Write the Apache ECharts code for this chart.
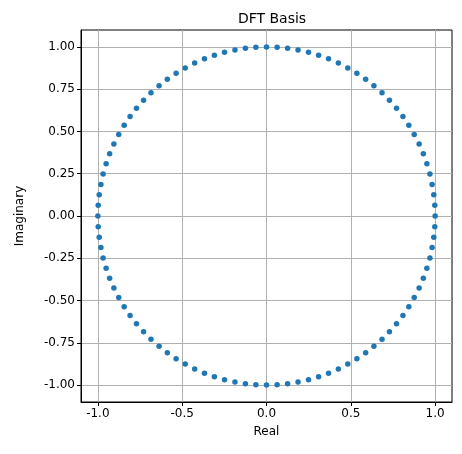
<!DOCTYPE html>
<html><head><meta charset="utf-8">
<script src="https://cdn.jsdelivr.net/npm/echarts@6/dist/echarts.min.js"></script>
<style>html,body{margin:0;padding:0;background:#fff}#c{width:462px;height:454px}</style>
</head><body><div id="c"></div>
<script>
const realVals = [1,.998,.992,.982,.969,.951,.930,.905,.876,.844,.809,.771,.729,.685,.637,.588,.536,.482,.426,.368,.309,.249,.187,.125,.063,0,
-.063,-.125,-.187,-.249,-.309,-.368,-.426,-.482,-.536,-.588,-.637,-.685,-.729,-.771,-.809,-.844,-.876,-.905,-.930,-.951,-.969,-.982,-.992,-.998,-1,
-.998,-.992,-.982,-.969,-.951,-.930,-.905,-.876,-.844,-.809,-.771,-.729,-.685,-.637,-.588,-.536,-.482,-.426,-.368,-.309,-.249,-.187,-.125,-.063,0,
.063,.125,.187,.249,.309,.368,.426,.482,.536,.588,.637,.685,.729,.771,.809,.844,.876,.905,.930,.951,.969,.982,.992,.998];
const imagVals = [0,.063,.125,.187,.249,.309,.368,.426,.482,.536,.588,.637,.685,.729,.771,.809,.844,.876,.905,.930,.951,.969,.982,.992,.998,1,
.998,.992,.982,.969,.951,.930,.905,.876,.844,.809,.771,.729,.685,.637,.588,.536,.482,.426,.368,.309,.249,.187,.125,.063,0,
-.063,-.125,-.187,-.249,-.309,-.368,-.426,-.482,-.536,-.588,-.637,-.685,-.729,-.771,-.809,-.844,-.876,-.905,-.930,-.951,-.969,-.982,-.992,-.998,-1,
-.998,-.992,-.982,-.969,-.951,-.930,-.905,-.876,-.844,-.809,-.771,-.729,-.685,-.637,-.588,-.536,-.482,-.426,-.368,-.309,-.249,-.187,-.125,-.063];
const xTicks = [-1, -0.5, 0, 0.5, 1];
const yTicks = [-1, -0.75, -0.5, -0.25, 0, 0.25, 0.5, 0.75, 1];

const chart = echarts.init(document.getElementById('c'));
const font = 'DejaVu Sans';
const axisCommon = {
  min: -1.1, max: 1.1,
  axisLine: {onZero: false, lineStyle: {color: '#000', width: 1}},
  axisTick: {show: true, length: 4, inside: false, lineStyle: {color: '#000'}},
  splitLine: {show: true, lineStyle: {color: '#b0b0b0', width: 1}},
  nameLocation: 'middle',
  nameTextStyle: {fontFamily: font, fontSize: 12, color: '#000'}
};
chart.setOption({
  animation: false,
  title: {text: 'DFT Basis', left: 267, top: 7, textAlign: 'center',
    textStyle: {fontFamily: font, fontSize: 14, fontWeight: 'normal', color: '#000'}},
  grid: {left: 81, right: 10, top: 30, bottom: 52, show: true, borderColor: '#000', borderWidth: 1},
  xAxis: Object.assign({}, axisCommon, {
    type: 'value', name: 'Real', nameGap: 24,
    axisTick: Object.assign({}, axisCommon.axisTick, {customValues: xTicks}),
    axisLabel: {customValues: xTicks, formatter: v => v.toFixed(1), fontFamily: font, fontSize: 12, color: '#000', margin: 6}
  }),
  yAxis: Object.assign({}, axisCommon, {
    type: 'value', name: 'Imaginary', nameGap: 55,
    axisTick: Object.assign({}, axisCommon.axisTick, {customValues: yTicks}),
    axisLabel: {customValues: yTicks, formatter: v => v.toFixed(2), fontFamily: font, fontSize: 12, color: '#000', margin: 6}
  }),
  series: [{
    type: 'scatter', symbolSize: 5.5,
    itemStyle: {color: '#1f77b4', opacity: 1},
    data: realVals.map((x, i) => [x, imagVals[i]])
  }]
});
</script></body></html>
